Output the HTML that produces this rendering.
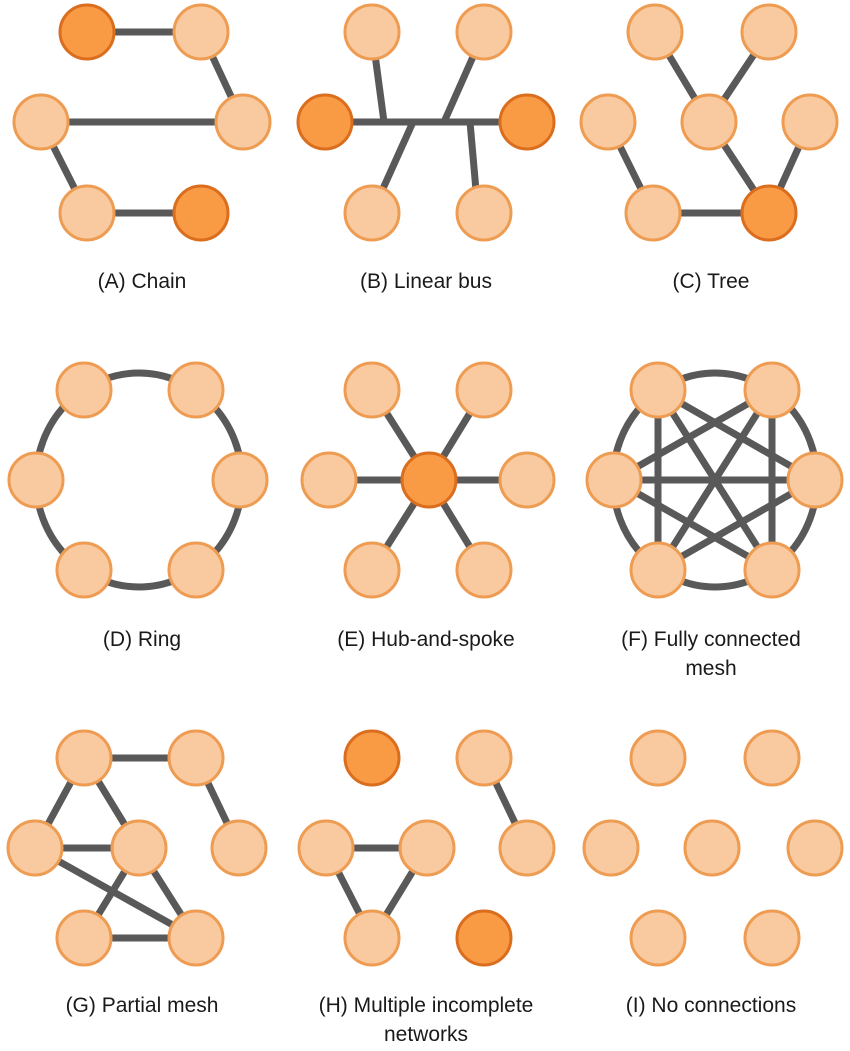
<!DOCTYPE html>
<html><head><meta charset="utf-8"><style>
html,body{margin:0;padding:0;background:#fff;}
svg{display:block}
.l{stroke:#595959;stroke-width:7;fill:none}
.n{fill:#F9C9A0;stroke:#EE9C52;stroke-width:3}
.d{fill:#F99A44;stroke:#DA6E1E;stroke-width:3}
text{font-family:"Liberation Sans",sans-serif;font-size:21px;fill:#1a1a1a;text-anchor:middle}
</style></head><body>
<svg width="850" height="1051" viewBox="0 0 850 1051" xmlns="http://www.w3.org/2000/svg">
<!-- A Chain -->
<g class="l">
<line x1="87" y1="32" x2="201" y2="32"/><line x1="201" y1="32" x2="243" y2="122"/>
<line x1="41" y1="122" x2="243" y2="122"/><line x1="41" y1="122" x2="87" y2="213"/>
<line x1="87" y1="213" x2="201" y2="213"/>
</g>
<circle class="d" cx="87" cy="32" r="27"/><circle class="n" cx="201" cy="32" r="27"/>
<circle class="n" cx="41" cy="122" r="27"/><circle class="n" cx="243" cy="122" r="27"/>
<circle class="n" cx="87" cy="213" r="27"/><circle class="d" cx="201" cy="213" r="27"/>
<text x="142" y="288">(A) Chain</text>
<!-- B Linear bus -->
<g class="l">
<line x1="325" y1="122" x2="527" y2="122"/>
<line x1="372" y1="32" x2="384" y2="122"/><line x1="484" y1="32" x2="444" y2="122"/>
<line x1="372" y1="213" x2="413" y2="122"/><line x1="478" y1="213" x2="470" y2="122"/>
</g>
<circle class="n" cx="372" cy="32" r="27"/><circle class="n" cx="484" cy="32" r="27"/>
<circle class="d" cx="325" cy="122" r="27"/><circle class="d" cx="527" cy="122" r="27"/>
<circle class="n" cx="372" cy="213" r="27"/><circle class="n" cx="484" cy="213" r="27"/>
<text x="426" y="288">(B) Linear bus</text>
<!-- C Tree -->
<g class="l">
<line x1="655" y1="32" x2="709" y2="122"/><line x1="769" y1="32" x2="709" y2="122"/>
<line x1="709" y1="122" x2="769" y2="213"/><line x1="810" y1="122" x2="769" y2="213"/>
<line x1="608" y1="122" x2="653" y2="213"/><line x1="653" y1="213" x2="769" y2="213"/>
</g>
<circle class="n" cx="655" cy="32" r="27"/><circle class="n" cx="769" cy="32" r="27"/>
<circle class="n" cx="608" cy="122" r="27"/><circle class="n" cx="709" cy="122" r="27"/><circle class="n" cx="810" cy="122" r="27"/>
<circle class="n" cx="653" cy="213" r="27"/><circle class="d" cx="769" cy="213" r="27"/>
<text x="711" y="288">(C) Tree</text>
<!-- D Ring -->
<ellipse class="l" cx="139" cy="480" rx="103" ry="107"/>
<circle class="n" cx="84" cy="390" r="27"/><circle class="n" cx="196" cy="390" r="27"/>
<circle class="n" cx="36" cy="480" r="27"/><circle class="n" cx="240" cy="480" r="27"/>
<circle class="n" cx="84" cy="570" r="27"/><circle class="n" cx="196" cy="570" r="27"/>
<text x="142" y="646">(D) Ring</text>
<!-- E Hub -->
<g class="l">
<line x1="429" y1="480" x2="372" y2="390"/><line x1="429" y1="480" x2="484" y2="390"/>
<line x1="329" y1="480" x2="527" y2="480"/>
<line x1="429" y1="480" x2="372" y2="570"/><line x1="429" y1="480" x2="484" y2="570"/>
</g>
<circle class="n" cx="372" cy="390" r="27"/><circle class="n" cx="484" cy="390" r="27"/>
<circle class="n" cx="329" cy="480" r="27"/><circle class="d" cx="429" cy="480" r="27"/><circle class="n" cx="527" cy="480" r="27"/>
<circle class="n" cx="372" cy="570" r="27"/><circle class="n" cx="484" cy="570" r="27"/>
<text x="426" y="646">(E) Hub-and-spoke</text>
<!-- F Full mesh -->
<ellipse class="l" cx="715" cy="480" rx="102" ry="107"/>
<g class="l">
<line x1="658" y1="390" x2="815" y2="480"/><line x1="658" y1="390" x2="658" y2="570"/><line x1="658" y1="390" x2="772" y2="570"/>
<line x1="772" y1="390" x2="614" y2="480"/><line x1="772" y1="390" x2="658" y2="570"/><line x1="772" y1="390" x2="772" y2="570"/>
<line x1="614" y1="480" x2="815" y2="480"/><line x1="614" y1="480" x2="772" y2="570"/>
<line x1="815" y1="480" x2="658" y2="570"/>
</g>
<circle class="n" cx="658" cy="390" r="27"/><circle class="n" cx="772" cy="390" r="27"/>
<circle class="n" cx="614" cy="480" r="27"/><circle class="n" cx="815" cy="480" r="27"/>
<circle class="n" cx="658" cy="570" r="27"/><circle class="n" cx="772" cy="570" r="27"/>
<text x="711" y="646">(F) Fully connected</text>
<text x="711" y="675">mesh</text>
<!-- G Partial mesh -->
<g class="l">
<line x1="84" y1="758" x2="196" y2="758"/><line x1="84" y1="758" x2="35" y2="848"/><line x1="84" y1="758" x2="139" y2="848"/>
<line x1="196" y1="758" x2="239" y2="848"/><line x1="35" y1="848" x2="139" y2="848"/><line x1="35" y1="848" x2="196" y2="938"/>
<line x1="139" y1="848" x2="84" y2="938"/><line x1="139" y1="848" x2="196" y2="938"/><line x1="84" y1="938" x2="196" y2="938"/>
</g>
<circle class="n" cx="84" cy="758" r="27"/><circle class="n" cx="196" cy="758" r="27"/>
<circle class="n" cx="35" cy="848" r="27"/><circle class="n" cx="139" cy="848" r="27"/><circle class="n" cx="239" cy="848" r="27"/>
<circle class="n" cx="84" cy="938" r="27"/><circle class="n" cx="196" cy="938" r="27"/>
<text x="142" y="1012">(G) Partial mesh</text>
<!-- H -->
<g class="l">
<line x1="484" y1="758" x2="527" y2="848"/><line x1="326" y1="848" x2="427" y2="848"/>
<line x1="326" y1="848" x2="372" y2="938"/><line x1="427" y1="848" x2="372" y2="938"/>
</g>
<circle class="d" cx="372" cy="758" r="27"/><circle class="n" cx="484" cy="758" r="27"/>
<circle class="n" cx="326" cy="848" r="27"/><circle class="n" cx="427" cy="848" r="27"/><circle class="n" cx="527" cy="848" r="27"/>
<circle class="n" cx="372" cy="938" r="27"/><circle class="d" cx="484" cy="938" r="27"/>
<text x="426" y="1012">(H) Multiple incomplete</text>
<text x="426" y="1041">networks</text>
<!-- I -->
<circle class="n" cx="658" cy="758" r="27"/><circle class="n" cx="772" cy="758" r="27"/>
<circle class="n" cx="611" cy="848" r="27"/><circle class="n" cx="712" cy="848" r="27"/><circle class="n" cx="815" cy="848" r="27"/>
<circle class="n" cx="658" cy="938" r="27"/><circle class="n" cx="772" cy="938" r="27"/>
<text x="711" y="1012">(I) No connections</text>
</svg>
</body></html>
